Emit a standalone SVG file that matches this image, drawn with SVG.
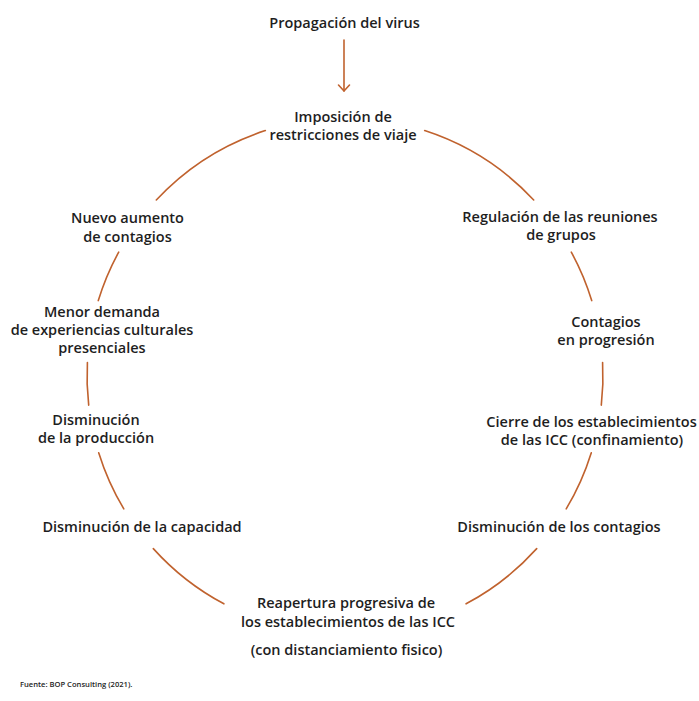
<svg xmlns="http://www.w3.org/2000/svg" width="699" height="701" viewBox="0 0 699 701">
<style>
  .t { font-family: "Open Sans", "Liberation Sans", sans-serif; font-weight: 600; font-size: 14.5px; fill: #1e1e1e; text-anchor: middle; }
  .src { font-family: "Open Sans", "Liberation Sans", sans-serif; font-weight: 600; font-size: 7.6px; fill: #1e1e1e; }
  .arc { fill: none; stroke: #c0622e; stroke-width: 1.6; stroke-linecap: round; }
</style>
<defs>
  <marker id="arrow" viewBox="0 0 14 14" refX="12" refY="7" markerWidth="14" markerHeight="14" markerUnits="userSpaceOnUse" orient="auto">
    <path d="M6,1.5 L12,7 L6,12.5" fill="none" stroke="#c0622e" stroke-width="1.6" stroke-linecap="round" stroke-linejoin="round"/>
  </marker>
</defs>
<rect width="699" height="701" fill="#ffffff"/>

<g id="connectors">
  <line class="arc" x1="344" y1="40" x2="344" y2="91" marker-end="url(#arrow)"/>
  <path class="arc" d="M424.7,130.6 A258,258 0 0 1 533.7,200.0"/>
  <path class="arc" d="M571.3,252.1 A258,258 0 0 1 591.7,300.6"/>
  <path class="arc" d="M602.6,362.5 A258,258 0 0 1 601.3,405.2"/>
  <path class="arc" d="M591.3,452.7 A258,258 0 0 1 566.2,508.9"/>
  <path class="arc" d="M536.7,548.6 A258,258 0 0 1 466.1,603.8"/>
  <path class="arc" d="M223.9,603.8 A258,258 0 0 1 153.3,548.6"/>
  <path class="arc" d="M123.8,508.9 A258,258 0 0 1 98.7,452.7"/>
  <path class="arc" d="M88.7,405.2 A258,258 0 0 1 87.4,362.5"/>
  <path class="arc" d="M98.3,300.6 A258,258 0 0 1 118.7,252.1"/>
  <path class="arc" d="M156.3,200.0 A258,258 0 0 1 265.3,130.6"/>
</g>

<g id="n-propagacion"><text class="t" x="344.5" y="28">Propagación del virus</text></g>
<g id="n-imposicion"><text class="t" x="343" y="122">Imposición de</text><text class="t" x="343" y="140">restricciones de viaje</text></g>
<g id="n-regulacion"><text class="t" x="560" y="222">Regulación de las reuniones</text><text class="t" x="561" y="240">de grupos</text></g>
<g id="n-contagios-prog"><text class="t" x="606" y="327">Contagios</text><text class="t" x="606" y="345">en progresión</text></g>
<g id="n-cierre"><text class="t" x="591.5" y="426.5">Cierre de los establecimientos</text><text class="t" x="592" y="444.5">de las ICC (confinamiento)</text></g>
<g id="n-dism-contagios"><text class="t" x="559" y="532">Disminución de los contagios</text></g>
<g id="n-reapertura"><text class="t" x="346" y="608">Reapertura progresiva de</text><text class="t" x="348" y="627">los establecimientos de las ICC</text><text class="t" x="346.5" y="655">(con distanciamiento fisico)</text></g>
<g id="n-dism-capacidad"><text class="t" x="142" y="532">Disminución de la capacidad</text></g>
<g id="n-dism-produccion"><text class="t" x="96" y="425">Disminución</text><text class="t" x="96" y="443">de la producción</text></g>
<g id="n-menor-demanda"><text class="t" x="102" y="317">Menor demanda</text><text class="t" x="102" y="335">de experiencias culturales</text><text class="t" x="102" y="353">presenciales</text></g>
<g id="n-nuevo-aumento"><text class="t" x="127.5" y="223">Nuevo aumento</text><text class="t" x="127.5" y="242">de contagios</text></g>

<text class="src" x="20" y="687">Fuente: BOP Consulting (2021).</text>
</svg>
